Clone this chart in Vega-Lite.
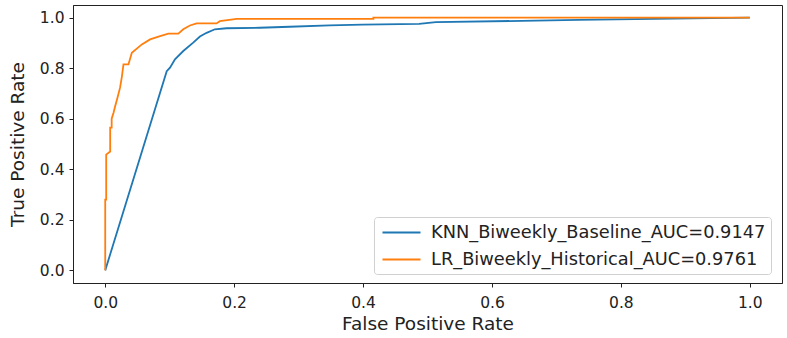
{
  "$schema": "https://vega.github.io/schema/vega-lite/v6.json",
  "width": 709,
  "height": 278,
  "autosize": {"type": "none"},
  "padding": {"left": 73, "top": 5, "right": 5, "bottom": 55},
  "config": {
    "font": "DejaVu Sans",
    "view": {"stroke": "#222", "strokeWidth": 1},
    "axis": {"grid": false, "domainColor": "#222", "tickColor": "#222", "labelColor": "#222", "titleColor": "#222", "labelFont": "DejaVu Sans", "titleFont": "DejaVu Sans", "titleFontWeight": "normal"}
  },
  "data": {
    "values": [
      {"model": "KNN_Biweekly_Baseline_AUC=0.9147", "i": 0, "fpr": 0.0, "tpr": 0.0},
      {"model": "KNN_Biweekly_Baseline_AUC=0.9147", "i": 1, "fpr": 0.0954, "tpr": 0.788},
      {"model": "KNN_Biweekly_Baseline_AUC=0.9147", "i": 2, "fpr": 0.1005, "tpr": 0.802},
      {"model": "KNN_Biweekly_Baseline_AUC=0.9147", "i": 3, "fpr": 0.1082, "tpr": 0.835},
      {"model": "KNN_Biweekly_Baseline_AUC=0.9147", "i": 4, "fpr": 0.1211, "tpr": 0.868},
      {"model": "KNN_Biweekly_Baseline_AUC=0.9147", "i": 5, "fpr": 0.1365, "tpr": 0.901},
      {"model": "KNN_Biweekly_Baseline_AUC=0.9147", "i": 6, "fpr": 0.1469, "tpr": 0.925},
      {"model": "KNN_Biweekly_Baseline_AUC=0.9147", "i": 7, "fpr": 0.1573, "tpr": 0.94},
      {"model": "KNN_Biweekly_Baseline_AUC=0.9147", "i": 8, "fpr": 0.1701, "tpr": 0.954},
      {"model": "KNN_Biweekly_Baseline_AUC=0.9147", "i": 9, "fpr": 0.1882, "tpr": 0.958},
      {"model": "KNN_Biweekly_Baseline_AUC=0.9147", "i": 10, "fpr": 0.2397, "tpr": 0.96},
      {"model": "KNN_Biweekly_Baseline_AUC=0.9147", "i": 11, "fpr": 0.286, "tpr": 0.964},
      {"model": "KNN_Biweekly_Baseline_AUC=0.9147", "i": 12, "fpr": 0.348, "tpr": 0.969},
      {"model": "KNN_Biweekly_Baseline_AUC=0.9147", "i": 13, "fpr": 0.399, "tpr": 0.972},
      {"model": "KNN_Biweekly_Baseline_AUC=0.9147", "i": 14, "fpr": 0.487, "tpr": 0.975},
      {"model": "KNN_Biweekly_Baseline_AUC=0.9147", "i": 15, "fpr": 0.513, "tpr": 0.982},
      {"model": "KNN_Biweekly_Baseline_AUC=0.9147", "i": 16, "fpr": 0.734, "tpr": 0.991},
      {"model": "KNN_Biweekly_Baseline_AUC=0.9147", "i": 17, "fpr": 1.0, "tpr": 1.0},
      {"model": "LR_Biweekly_Historical_AUC=0.9761", "i": 0, "fpr": 0.0, "tpr": 0.0},
      {"model": "LR_Biweekly_Historical_AUC=0.9761", "i": 1, "fpr": 0.0, "tpr": 0.28},
      {"model": "LR_Biweekly_Historical_AUC=0.9761", "i": 2, "fpr": 0.0015, "tpr": 0.28},
      {"model": "LR_Biweekly_Historical_AUC=0.9761", "i": 3, "fpr": 0.0015, "tpr": 0.458},
      {"model": "LR_Biweekly_Historical_AUC=0.9761", "i": 4, "fpr": 0.0077, "tpr": 0.47},
      {"model": "LR_Biweekly_Historical_AUC=0.9761", "i": 5, "fpr": 0.0077, "tpr": 0.565},
      {"model": "LR_Biweekly_Historical_AUC=0.9761", "i": 6, "fpr": 0.01, "tpr": 0.565},
      {"model": "LR_Biweekly_Historical_AUC=0.9761", "i": 7, "fpr": 0.01, "tpr": 0.6},
      {"model": "LR_Biweekly_Historical_AUC=0.9761", "i": 8, "fpr": 0.0129, "tpr": 0.624},
      {"model": "LR_Biweekly_Historical_AUC=0.9761", "i": 9, "fpr": 0.0155, "tpr": 0.65},
      {"model": "LR_Biweekly_Historical_AUC=0.9761", "i": 10, "fpr": 0.019, "tpr": 0.683},
      {"model": "LR_Biweekly_Historical_AUC=0.9761", "i": 11, "fpr": 0.023, "tpr": 0.723},
      {"model": "LR_Biweekly_Historical_AUC=0.9761", "i": 12, "fpr": 0.0258, "tpr": 0.766},
      {"model": "LR_Biweekly_Historical_AUC=0.9761", "i": 13, "fpr": 0.0283, "tpr": 0.815},
      {"model": "LR_Biweekly_Historical_AUC=0.9761", "i": 14, "fpr": 0.036, "tpr": 0.815},
      {"model": "LR_Biweekly_Historical_AUC=0.9761", "i": 15, "fpr": 0.0413, "tpr": 0.861},
      {"model": "LR_Biweekly_Historical_AUC=0.9761", "i": 16, "fpr": 0.0568, "tpr": 0.894},
      {"model": "LR_Biweekly_Historical_AUC=0.9761", "i": 17, "fpr": 0.0696, "tpr": 0.914},
      {"model": "LR_Biweekly_Historical_AUC=0.9761", "i": 18, "fpr": 0.0851, "tpr": 0.927},
      {"model": "LR_Biweekly_Historical_AUC=0.9761", "i": 19, "fpr": 0.098, "tpr": 0.937},
      {"model": "LR_Biweekly_Historical_AUC=0.9761", "i": 20, "fpr": 0.1134, "tpr": 0.937},
      {"model": "LR_Biweekly_Historical_AUC=0.9761", "i": 21, "fpr": 0.1211, "tpr": 0.954},
      {"model": "LR_Biweekly_Historical_AUC=0.9761", "i": 22, "fpr": 0.1314, "tpr": 0.969},
      {"model": "LR_Biweekly_Historical_AUC=0.9761", "i": 23, "fpr": 0.1418, "tpr": 0.977},
      {"model": "LR_Biweekly_Historical_AUC=0.9761", "i": 24, "fpr": 0.1727, "tpr": 0.977},
      {"model": "LR_Biweekly_Historical_AUC=0.9761", "i": 25, "fpr": 0.1778, "tpr": 0.986},
      {"model": "LR_Biweekly_Historical_AUC=0.9761", "i": 26, "fpr": 0.1984, "tpr": 0.993},
      {"model": "LR_Biweekly_Historical_AUC=0.9761", "i": 27, "fpr": 0.2036, "tpr": 0.995},
      {"model": "LR_Biweekly_Historical_AUC=0.9761", "i": 28, "fpr": 0.416, "tpr": 0.995},
      {"model": "LR_Biweekly_Historical_AUC=0.9761", "i": 29, "fpr": 0.416, "tpr": 1.0},
      {"model": "LR_Biweekly_Historical_AUC=0.9761", "i": 30, "fpr": 1.0, "tpr": 1.0}
    ]
  },
  "mark": {"type": "line", "strokeWidth": 1.8, "clip": true},
  "encoding": {
    "x": {
      "field": "fpr", "type": "quantitative",
      "scale": {"domain": [-0.05, 1.05], "nice": false, "zero": false},
      "axis": {"values": [0, 0.2, 0.4, 0.6, 0.8, 1.0], "format": ".1f", "title": "False Positive Rate", "labelFontSize": 15.5, "titleFontSize": 18.5, "tickSize": 4, "labelPadding": 8, "titlePadding": 4, "labelFlush": false}
    },
    "y": {
      "field": "tpr", "type": "quantitative",
      "scale": {"domain": [-0.05, 1.05], "nice": false, "zero": false},
      "axis": {"values": [0, 0.2, 0.4, 0.6, 0.8, 1.0], "format": ".1f", "title": "True Positive Rate", "labelFontSize": 15.5, "titleFontSize": 18.5, "tickSize": 4, "labelPadding": 5, "titlePadding": 12, "labelFlush": false}
    },
    "color": {
      "field": "model", "type": "nominal",
      "scale": {"domain": ["KNN_Biweekly_Baseline_AUC=0.9147", "LR_Biweekly_Historical_AUC=0.9761"], "range": ["#1f77b4", "#ff7f0e"]},
      "legend": {
        "title": null, "orient": "none", "legendX": 301, "legendY": 212,
        "symbolType": "M-2,0H2", "symbolSize": 361, "symbolStrokeWidth": 2, "symbolOffset": 12,
        "labelFontSize": 17.8, "labelFont": "DejaVu Sans", "labelColor": "#222", "labelLimit": 500, "labelOffset": 19,
        "rowPadding": 7, "padding": 5, "strokeColor": "#d0d0d0", "fillColor": "white", "cornerRadius": 3
      }
    },
    "order": {"field": "i", "type": "quantitative"}
  }
}
